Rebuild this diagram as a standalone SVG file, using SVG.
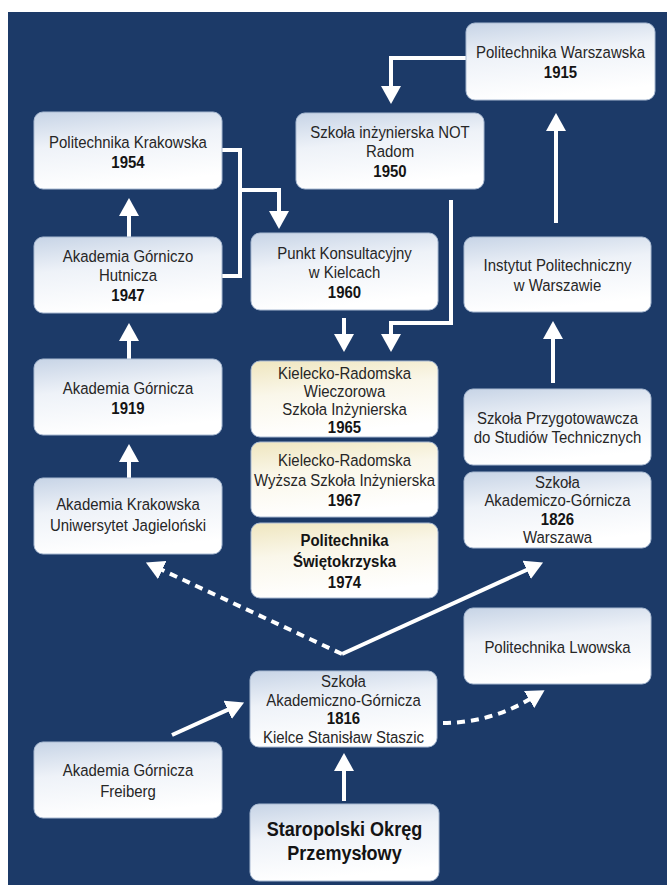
<svg xmlns="http://www.w3.org/2000/svg" width="667" height="885" viewBox="0 0 667 885">
<defs>
<linearGradient id="gb" x1="0" y1="0" x2="0.25" y2="1">
<stop offset="0" stop-color="#c7d4e6"/><stop offset="0.45" stop-color="#eef2f8"/><stop offset="1" stop-color="#ffffff"/>
</linearGradient>
<linearGradient id="gy" x1="0" y1="0" x2="0.25" y2="1">
<stop offset="0" stop-color="#efe6bf"/><stop offset="0.45" stop-color="#faf7ea"/><stop offset="1" stop-color="#ffffff"/>
</linearGradient>
<marker id="ah" viewBox="0 0 18 20" refX="1" refY="10" markerWidth="18" markerHeight="20" markerUnits="userSpaceOnUse" orient="auto">
<path d="M0,0 L18,10 L0,20 z" fill="#ffffff"/>
</marker>
</defs>
<style>
.box{fill:url(#gb);stroke:#a9bad2;stroke-width:1}
.boxy{fill:url(#gy);stroke:#a9bad2;stroke-width:1}
.t{font-family:"Liberation Sans",Arial,sans-serif;font-size:17px;fill:#262626;text-anchor:middle}
.b{font-weight:bold;fill:#141414}
.big{font-family:"Liberation Sans",Arial,sans-serif;font-size:21px;font-weight:bold;fill:#141414;text-anchor:middle}
.c{fill:none;stroke:#ffffff;stroke-width:4}
.d{stroke-dasharray:8 6}
</style>
<rect x="0" y="0" width="667" height="885" fill="#ffffff"/>
<rect x="8" y="12" width="659" height="873" fill="#1c3a68"/>

<g id="connectors">
<path class="c" d="M466,58 H391 V87" marker-end="url(#ah)"/>
<path class="c" d="M222,150 H240 V276 H222"/>
<path class="c" d="M240,190 H279 V212" marker-end="url(#ah)"/>
<path class="c" d="M129,237 V215" marker-end="url(#ah)"/>
<path class="c" d="M129,359 V340" marker-end="url(#ah)"/>
<path class="c" d="M129,478 V461" marker-end="url(#ah)"/>
<path class="c" d="M344,318 V335" marker-end="url(#ah)"/>
<path class="c" d="M451,200 V323 H391 V335" marker-end="url(#ah)"/>
<path class="c" d="M556,223 V130" marker-end="url(#ah)"/>
<path class="c" d="M553,383 V338" marker-end="url(#ah)"/>
<path class="c d" d="M342,654 L161.3,569.6" marker-end="url(#ah)"/>
<path class="c" d="M342,654 L527.6,569.5" marker-end="url(#ah)"/>
<path class="c" d="M172,735 L228.6,709.4" marker-end="url(#ah)"/>
<path class="c d" d="M443,723 C475,723 505,714 530,699" marker-end="url(#ah)"/>
<path class="c" d="M344,801 V770" marker-end="url(#ah)"/>
</g>

<g id="n-pw"><rect class="box" x="466" y="23" width="189" height="77" rx="9"/>
<text class="t" transform="translate(560.5,58) scale(0.88,1)"><tspan x="0">Politechnika Warszawska</tspan><tspan x="0" dy="20" class="b">1915</tspan></text></g>

<g id="n-not"><rect class="box" x="296" y="113" width="188" height="76" rx="9"/>
<text class="t" transform="translate(390,138) scale(0.88,1)"><tspan x="0">Szkoła inżynierska NOT</tspan><tspan x="0" dy="19.5">Radom</tspan><tspan x="0" dy="19.5" class="b">1950</tspan></text></g>

<g id="n-pk"><rect class="box" x="34" y="112" width="188" height="77" rx="9"/>
<text class="t" transform="translate(128,148) scale(0.88,1)"><tspan x="0">Politechnika Krakowska</tspan><tspan x="0" dy="20" class="b">1954</tspan></text></g>

<g id="n-agh"><rect class="box" x="34" y="237" width="188" height="76" rx="9"/>
<text class="t" transform="translate(128,262) scale(0.88,1)"><tspan x="0">Akademia Górniczo</tspan><tspan x="0" dy="19.5">Hutnicza</tspan><tspan x="0" dy="19.5" class="b">1947</tspan></text></g>

<g id="n-punkt"><rect class="box" x="251" y="233" width="187" height="77" rx="9"/>
<text class="t" transform="translate(344.5,259) scale(0.88,1)"><tspan x="0">Punkt Konsultacyjny</tspan><tspan x="0" dy="19.5">w Kielcach</tspan><tspan x="0" dy="19.5" class="b">1960</tspan></text></g>

<g id="n-ip"><rect class="box" x="464" y="237" width="187" height="75" rx="9"/>
<text class="t" transform="translate(557.5,271) scale(0.88,1)"><tspan x="0">Instytut Politechniczny</tspan><tspan x="0" dy="20">w Warszawie</tspan></text></g>

<g id="n-ag"><rect class="box" x="34" y="359" width="188" height="76" rx="9"/>
<text class="t" transform="translate(128,394) scale(0.88,1)"><tspan x="0">Akademia Górnicza</tspan><tspan x="0" dy="20" class="b">1919</tspan></text></g>

<g id="n-krw65"><rect class="boxy" x="251" y="361" width="187" height="76" rx="9"/>
<text class="t" transform="translate(344.5,379) scale(0.88,1)"><tspan x="0">Kielecko-Radomska</tspan><tspan x="0" dy="18">Wieczorowa</tspan><tspan x="0" dy="18">Szkoła Inżynierska</tspan><tspan x="0" dy="18" class="b">1965</tspan></text></g>

<g id="n-sp"><rect class="box" x="464" y="389" width="187" height="76" rx="9"/>
<text class="t" transform="translate(557.5,424) scale(0.88,1)"><tspan x="0">Szkoła Przygotowawcza</tspan><tspan x="0" dy="19.5">do Studiów Technicznych</tspan></text></g>

<g id="n-krw67"><rect class="boxy" x="251" y="442" width="187" height="75" rx="9"/>
<text class="t" transform="translate(344.5,466) scale(0.88,1)"><tspan x="0">Kielecko-Radomska</tspan><tspan x="0" dy="20">Wyższa Szkoła Inżynierska</tspan><tspan x="0" dy="20" class="b">1967</tspan></text></g>

<g id="n-sag"><rect class="box" x="464" y="472" width="187" height="76" rx="9"/>
<text class="t" transform="translate(557.5,488) scale(0.88,1)"><tspan x="0">Szkoła</tspan><tspan x="0" dy="18.5">Akademiczo-Górnicza</tspan><tspan x="0" dy="18.5" class="b">1826</tspan><tspan x="0" dy="18.5">Warszawa</tspan></text></g>

<g id="n-ak"><rect class="box" x="34" y="478" width="188" height="76" rx="9"/>
<text class="t" transform="translate(128,510) scale(0.88,1)"><tspan x="0">Akademia Krakowska</tspan><tspan x="0" dy="21">Uniwersytet Jagieloński</tspan></text></g>

<g id="n-ps"><rect class="boxy" x="251" y="523" width="187" height="75" rx="9"/>
<text class="t b" transform="translate(344.5,546) scale(0.88,1)"><tspan x="0">Politechnika</tspan><tspan x="0" dy="21">Świętokrzyska</tspan><tspan x="0" dy="21">1974</tspan></text></g>

<g id="n-pl"><rect class="box" x="464" y="608" width="187" height="76" rx="9"/>
<text class="t" transform="translate(557.5,653) scale(0.88,1)"><tspan x="0">Politechnika Lwowska</tspan></text></g>

<g id="n-sag1816"><rect class="box" x="250" y="671" width="187" height="76" rx="9"/>
<text class="t" transform="translate(343.5,687) scale(0.88,1)"><tspan x="0">Szkoła</tspan><tspan x="0" dy="18.7">Akademiczno-Górnicza</tspan><tspan x="0" dy="18.7" class="b">1816</tspan><tspan x="0" dy="18.7">Kielce Stanisław Staszic</tspan></text></g>

<g id="n-fr"><rect class="box" x="34" y="742" width="188" height="76" rx="9"/>
<text class="t" transform="translate(128,776) scale(0.88,1)"><tspan x="0">Akademia Górnicza</tspan><tspan x="0" dy="21">Freiberg</tspan></text></g>

<g id="n-sop"><rect class="box" x="250" y="804" width="189" height="77" rx="9"/>
<text class="big" transform="translate(344.5,836) scale(0.86,1)"><tspan x="0">Staropolski Okręg</tspan><tspan x="0" dy="24">Przemysłowy</tspan></text></g>
</svg>
